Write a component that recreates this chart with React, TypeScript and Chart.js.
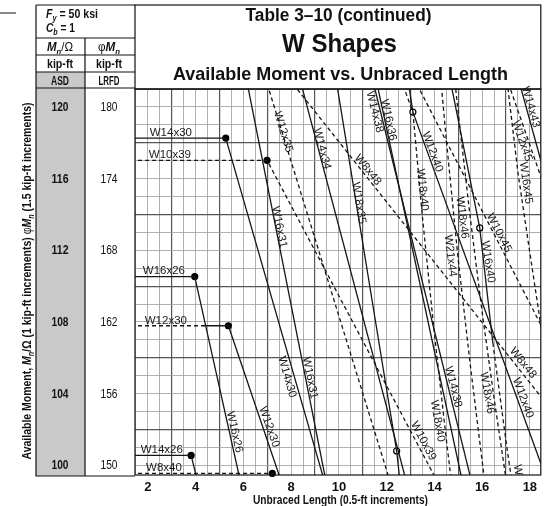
import React, { useEffect, useRef } from "react";
import { Chart, registerables } from "chart.js";
Chart.register(...registerables);

// ---------- axes ----------
const X_MIN = 1.4583;
const X_MAX = 18.4583;
const Y_MIN = 99.46;
const Y_MAX = 121.0;
const X_TICK_LABELS = [2, 4, 6, 8, 10, 12, 14, 16, 18];
const X_GRID = Array.from({ length: 34 }, (_, i) => 1.5 + i * 0.5);
const Y_GRID = Array.from({ length: 22 }, (_, i) => 100 + i);
const ASD_LABELS = [120, 116, 112, 108, 104, 100];
const LRFD_LABELS = [180, 174, 168, 162, 156, 150];

// ---------- shapes (unbraced length ft, Mn/Ω kip-ft) ----------
const W14x26_X = [1.0, 3.81, 11.1];
const W14x26_Y = [100.55, 100.55, 61.9];
const W8x40_X = [1.0, 7.21, 29.9];
const W8x40_Y = [99.55, 99.55, 62.25];
const W16x26_X = [1.0, 3.96, 11.2];
const W16x26_Y = [110.53, 110.53, 67.32];
const W12x30_X = [1.0, 4.42, 5.37, 15.6];
const W12x30_Y = [107.79, 107.79, 107.79, 67.67];
const W14x30_X = [1.0, 5.26, 14.9];
const W14x30_Y = [118.26, 118.26, 73.6];
const W10x39_X = [1.0, 6.99, 24.2];
const W10x39_Y = [117.02, 117.02, 73.78];
const W16x31_X = [4.13, 11.9];
const W16x31_Y = [134.98, 82.69];
const W12x35_X = [5.44, 16.6];
const W12x35_Y = [127.99, 79.89];
const W14x34_X = [5.4, 15.6];
const W14x34_Y = [136.48, 85.13];
const W8x48_X = [7.35, 35.2];
const W8x48_Y = [122.51, 75.7];
const W18x35_X = [4.41, 12.42, 12.55];
const W18x35_Y = [166.2, 100.8, 99.2];
const W14x38_X = [5.47, 16.2];
const W14x38_Y = [153.69, 95.61];
const W16x36_X = [5.37, 15.2];
const W16x36_Y = [159.93, 98.93];
const W18x40_X = [4.49, 13.1, 13.5, 14.0, 14.5, 14.7];
const W18x40_Y = [195.86, 119.71, 113.85, 107.35, 101.45, 99.23];
const W12x40_X = [6.85, 13.1, 18.46];
const W12x40_Y = [142.47, 119.71, 100.1];
const W16x40_X = [5.55, 15.9, 16.45, 17.0, 17.25];
const W16x40_Y = [182.39, 113.25, 106.83, 101.35, 99.05];
const W18x46_X = [14.5, 15.0, 15.5, 16.0, 16.5, 17.0];
const W18x46_Y = [126.05, 119.65, 113.85, 108.55, 103.75, 99.25];
const W21x44_X = [14.0, 14.5, 15.0, 15.5, 16.0, 16.2];
const W21x44_Y = [125.45, 118.15, 111.45, 105.65, 100.25, 98.15];
const W10x45_X = [7.1, 26.9];
const W10x45_Y = [137.23, 86.0];
const W12x45_X = [6.89, 22.4];
const W12x45_Y = [160.43, 101.02];
const W14x43_X = [6.68, 20.0];
const W14x43_Y = [173.9, 109.58];
const W16x45_X = [16.5, 17.0, 17.5, 18.0, 18.5];
const W16x45_Y = [127.25, 121.95, 116.35, 111.85, 107.45];

// segment style flags (1 = dashed)
const SERIES = [
  { xs: W14x26_X, ys: W14x26_Y, dash: [0, 0] },
  { xs: W8x40_X, ys: W8x40_Y, dash: [1, 1] },
  { xs: W16x26_X, ys: W16x26_Y, dash: [0, 0] },
  { xs: W12x30_X, ys: W12x30_Y, dash: [1, 0, 0] },
  { xs: W14x30_X, ys: W14x30_Y, dash: [0, 0] },
  { xs: W10x39_X, ys: W10x39_Y, dash: [1, 1] },
  { xs: W16x31_X, ys: W16x31_Y, dash: [0] },
  { xs: W12x35_X, ys: W12x35_Y, dash: [1] },
  { xs: W14x34_X, ys: W14x34_Y, dash: [0] },
  { xs: W8x48_X, ys: W8x48_Y, dash: [1] },
  { xs: W18x35_X, ys: W18x35_Y, dash: [0, 0] },
  { xs: W14x38_X, ys: W14x38_Y, dash: [0] },
  { xs: W16x36_X, ys: W16x36_Y, dash: [0] },
  { xs: W18x40_X, ys: W18x40_Y, dash: [0, 1, 1, 1, 1] },
  { xs: W12x40_X, ys: W12x40_Y, dash: [1, 0] },
  { xs: W16x40_X, ys: W16x40_Y, dash: [0, 0, 1, 1] },
  { xs: W18x46_X, ys: W18x46_Y, dash: [1, 1, 1, 1, 1] },
  { xs: W21x44_X, ys: W21x44_Y, dash: [1, 1, 1, 1, 1] },
  { xs: W10x45_X, ys: W10x45_Y, dash: [1] },
  { xs: W12x45_X, ys: W12x45_Y, dash: [1] },
  { xs: W14x43_X, ys: W14x43_Y, dash: [0] },
  { xs: W16x45_X, ys: W16x45_Y, dash: [1, 1, 1, 1] },
];

// Lp (filled) and Lr (open) markers
const LP_X = [5.26, 6.99, 3.96, 5.37, 3.81, 7.21];
const LP_Y = [118.26, 117.02, 110.53, 107.79, 100.55, 99.55];
const LR_X = [13.1, 15.9, 12.42];
const LR_Y = [119.71, 113.25, 100.8];

// curve labels
const LABEL_TEXT = [
  "W14x30", "W10x39", "W16x26", "W12x30", "W14x26", "W8x40",
  "W16x26", "W12x30", "W14x30", "W16x31", "W16x31", "W12x35", "W14x34",
  "W8x48", "W18x35", "W14x38", "W16x36", "W12x40", "W18x40", "W14x43",
  "W12x45", "W16x45", "W18x46", "W10x45", "W16x40", "W21x44", "W14x38",
  "W18x46", "W8x48", "W12x40", "W18x40", "W10x39", "W",
];
const LABEL_X = [
  2.96, 2.92, 2.67, 2.75, 2.58, 2.67,
  5.63, 7.08, 7.83, 8.79, 7.5, 7.67, 9.29,
  11.21, 10.83, 11.5, 12.08, 13.92, 13.5, 18.04,
  17.67, 17.83, 15.17, 16.71, 16.25, 14.67, 14.79,
  16.21, 17.71, 17.71, 14.13, 13.54, 17.5,
];
const LABEL_Y = [
  118.55, 117.32, 110.85, 108.06, 100.86, 99.85,
  101.86, 102.14, 104.93, 104.88, 113.3, 118.6, 117.66,
  116.48, 114.64, 119.72, 119.27, 117.49, 115.37, 120.0,
  118.1, 115.76, 113.81, 112.97, 111.35, 111.69, 104.38,
  104.04, 105.71, 103.76, 102.48, 101.36, 99.74,
];
const LABEL_ANGLE = [
  0, 0, 0, 0, 0, 0,
  77, 71, 74, 78.5, 78.5, 72.7, 75,
  51, 80.7, 76, 77.8, 70, 84, 74.5,
  70.7, 82, 83, 62.7, 81, 83, 76,
  80, 51, 70, 80, 62, 80,
];

const FONT = '"Liberation Sans", Arial, Helvetica, sans-serif';

type Run = { t: string; f: string; dy?: number };
function runsWidth(ctx: CanvasRenderingContext2D, runs: Run[]) {
  let w = 0;
  for (const r of runs) {
    ctx.font = r.f;
    w += ctx.measureText(r.t).width;
  }
  return w;
}
function drawRuns(
  ctx: CanvasRenderingContext2D,
  runs: Run[],
  x: number,
  y: number,
  align: "left" | "center",
  target?: number
) {
  const total = runsWidth(ctx, runs);
  const sx = target ? target / total : 1;
  ctx.save();
  ctx.translate(x, y);
  ctx.scale(sx, 1);
  ctx.textAlign = "left";
  ctx.textBaseline = "alphabetic";
  let cx = align === "center" ? -total / 2 : 0;
  for (const r of runs) {
    ctx.font = r.f;
    ctx.fillText(r.t, cx, r.dy || 0);
    cx += ctx.measureText(r.t).width;
  }
  ctx.restore();
}

const framePlugin = {
  id: "frame",
  beforeDraw(chart: any) {
    const ctx: CanvasRenderingContext2D = chart.ctx;
    ctx.save();
    ctx.fillStyle = "#ffffff";
    ctx.fillRect(0, 0, chart.width, chart.height);
    ctx.fillStyle = "#c9c9c9";
    ctx.fillRect(36, 72, 49, 404);
    ctx.restore();
  },
  afterDraw(chart: any) {
    const ctx: CanvasRenderingContext2D = chart.ctx;
    const ca = chart.chartArea;
    const ys = chart.scales.y;
    ctx.save();
    ctx.strokeStyle = "#111";
    ctx.lineWidth = 1.2;
    ctx.strokeRect(ca.left, ca.top, ca.right - ca.left, ca.bottom - ca.top);
    ctx.strokeRect(ca.left, 5, ca.right - ca.left, ca.top - 5);
    ctx.beginPath();
    ctx.moveTo(36, 5); ctx.lineTo(ca.left, 5);
    ctx.moveTo(36, 5); ctx.lineTo(36, 476);
    ctx.lineTo(ca.left, 476);
    ctx.moveTo(36, 38); ctx.lineTo(ca.left, 38);
    ctx.moveTo(36, 55); ctx.lineTo(ca.left, 55);
    ctx.moveTo(36, 72); ctx.lineTo(ca.left, 72);
    ctx.moveTo(36, 88); ctx.lineTo(ca.left, 88);
    ctx.moveTo(85, 38); ctx.lineTo(85, 476);
    ctx.moveTo(0, 13); ctx.lineTo(16, 13);
    ctx.stroke();

    ctx.fillStyle = "#111";
    const B = (s: number) => `bold ${s}px ${FONT}`;
    const BI = (s: number) => `italic bold ${s}px ${FONT}`;
    const R = (s: number) => `${s}px ${FONT}`;
    drawRuns(ctx, [{ t: "F", f: BI(13) }, { t: "y", f: BI(9), dy: 3 }, { t: " = 50 ksi", f: B(13) }], 46, 18, "left", 52);
    drawRuns(ctx, [{ t: "C", f: BI(13) }, { t: "b", f: BI(9), dy: 3 }, { t: " = 1", f: B(13) }], 46, 32, "left", 29);
    drawRuns(ctx, [{ t: "M", f: BI(12) }, { t: "n", f: BI(8), dy: 3 }, { t: "/Ω", f: R(12) }], 60, 51, "center", 26);
    drawRuns(ctx, [{ t: "φ", f: R(12) }, { t: "M", f: BI(12) }, { t: "n", f: BI(8), dy: 3 }], 109, 51, "center", 22);
    drawRuns(ctx, [{ t: "kip-ft", f: B(12) }], 60, 68, "center", 26);
    drawRuns(ctx, [{ t: "kip-ft", f: B(12) }], 109, 68, "center", 26);
    drawRuns(ctx, [{ t: "ASD", f: B(12) }], 60, 85, "center", 18);
    drawRuns(ctx, [{ t: "LRFD", f: B(12) }], 109, 85, "center", 21);

    ASD_LABELS.forEach((v, i) => {
      const py = ys.getPixelForValue(v) + 4;
      drawRuns(ctx, [{ t: String(v), f: B(12) }], 60, py, "center", 17);
      drawRuns(ctx, [{ t: String(LRFD_LABELS[i]), f: R(12) }], 109, ys.getPixelForValue(LRFD_LABELS[i] / 1.5) + 4, "center", 17);
    });

    drawRuns(ctx, [{ t: "Table 3–10 (continued)", f: B(18) }], 338.5, 21, "center", 186);
    drawRuns(ctx, [{ t: "W Shapes", f: B(26) }], 339.5, 52, "center", 115);
    drawRuns(ctx, [{ t: "Available Moment vs. Unbraced Length", f: B(19) }], 340.5, 80, "center", 335);

    drawRuns(ctx, [{ t: "Unbraced Length (0.5-ft increments)", f: B(13) }], 340.5, 504, "center", 175);

    ctx.save();
    ctx.translate(31, 281);
    ctx.rotate(-Math.PI / 2);
    drawRuns(
      ctx,
      [
        { t: "Available Moment, ", f: B(13) },
        { t: "M", f: BI(13) },
        { t: "n", f: BI(9), dy: 3 },
        { t: "/Ω (1 kip-ft increments) ", f: B(13) },
        { t: "φ", f: R(13) },
        { t: "M", f: BI(13) },
        { t: "n", f: BI(9), dy: 3 },
        { t: " (1.5 kip-ft increments)", f: B(13) },
      ],
      0,
      0,
      "center",
      357
    );
    ctx.restore();
    ctx.restore();
  },
  afterDatasetsDraw(chart: any) {
    const ctx: CanvasRenderingContext2D = chart.ctx;
    const xs = chart.scales.x;
    const ys = chart.scales.y;
    ctx.save();
    ctx.fillStyle = "#1a1a1a";
    ctx.font = `11.5px ${FONT}`;
    ctx.textAlign = "center";
    ctx.textBaseline = "middle";
    LABEL_TEXT.forEach((t, i) => {
      const px = xs.getPixelForValue(LABEL_X[i]);
      const py = ys.getPixelForValue(LABEL_Y[i]);
      ctx.save();
      ctx.translate(px, py);
      ctx.rotate((LABEL_ANGLE[i] * Math.PI) / 180);
      ctx.fillText(t, 0, 0);
      ctx.restore();
    });
    ctx.restore();
  },
};

export default function App() {
  const ref = useRef<HTMLCanvasElement>(null);
  useEffect(() => {
    const lineSets = SERIES.map((s) => ({
      type: "line" as const,
      data: s.xs.map((x, i) => ({ x, y: s.ys[i] })),
      borderColor: "#161616",
      borderWidth: 1.3,
      pointRadius: 0,
      tension: 0,
      fill: false,
      segment: {
        borderDash: (c: any) => (s.dash[c.p0DataIndex] ? [4, 3] : []),
      },
    }));
    const heavyX = (c: any) => c.tick && Math.abs((c.tick.value % 2) - 1) < 1e-6;
    const heavyY = (c: any) => c.tick && c.tick.value % 4 === 2;
    const chart = new Chart(ref.current as HTMLCanvasElement, {
      type: "line",
      data: {
        datasets: [
          ...lineSets,
          {
            type: "scatter" as const,
            data: LP_X.map((x, i) => ({ x, y: LP_Y[i] })),
            pointRadius: 3.6,
            backgroundColor: "#000",
            borderWidth: 0,
            clip: false as any,
          },
          {
            type: "scatter" as const,
            data: LR_X.map((x, i) => ({ x, y: LR_Y[i] })),
            pointRadius: 3,
            backgroundColor: "#fff",
            borderColor: "#000",
            borderWidth: 1.2,
            clip: false as any,
          },
        ] as any,
      },
      options: {
        responsive: false,
        animation: false,
        events: [],
        layout: { padding: { left: 135, right: 3, top: 89, bottom: 0 } },
        plugins: { legend: { display: false }, tooltip: { enabled: false } },
        scales: {
          x: {
            type: "linear",
            min: X_MIN,
            max: X_MAX,
            afterBuildTicks: (s: any) => {
              s.ticks = X_GRID.map((v) => ({ value: v }));
            },
            afterFit: (s: any) => {
              s.height = 31;
            },
            border: { display: false },
            grid: {
              drawTicks: false,
              color: (c: any) => (heavyX(c) ? "#555" : "#9c9c9c"),
              lineWidth: (c: any) => (heavyX(c) ? 1.2 : 0.8),
            },
            ticks: {
              autoSkip: false,
              maxRotation: 0,
              padding: 5,
              color: "#111",
              font: { family: FONT, size: 13, weight: "bold" },
              callback: (v: any) => (X_TICK_LABELS.includes(Number(v)) ? String(v) : ""),
            },
          },
          y: {
            type: "linear",
            min: Y_MIN,
            max: Y_MAX,
            afterBuildTicks: (s: any) => {
              s.ticks = Y_GRID.map((v) => ({ value: v }));
            },
            afterFit: (s: any) => {
              s.width = 0;
            },
            border: { display: false },
            grid: {
              drawTicks: false,
              color: (c: any) => (heavyY(c) ? "#555" : "#9c9c9c"),
              lineWidth: (c: any) => (heavyY(c) ? 1.2 : 0.8),
            },
            ticks: { display: false },
          },
        },
      },
      plugins: [framePlugin],
    } as any);
    return () => chart.destroy();
  }, []);
  return (
    <div style={{ position: "absolute", left: 0, top: 0, width: 546, height: 506 }}>
      <canvas ref={ref} width={546} height={506} style={{ display: "block", width: 546, height: 506 }} />
    </div>
  );
}
